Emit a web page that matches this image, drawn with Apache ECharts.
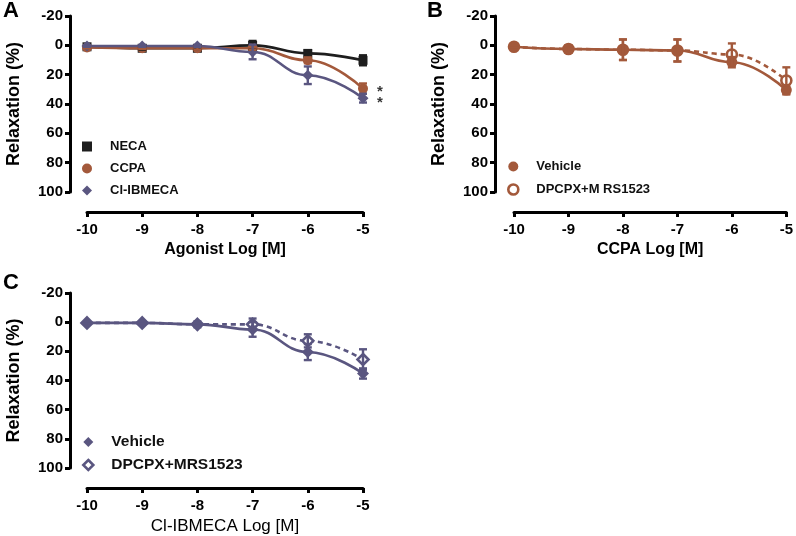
<!DOCTYPE html>
<html><head><meta charset="utf-8">
<script src="https://cdn.jsdelivr.net/npm/echarts@6/dist/echarts.min.js"></script>
<style>html,body{margin:0;padding:0;background:#fff}#c{width:796px;height:536px}</style>
</head><body><div id="c"></div>
<script>
// ---- data ----
const doses = [-10, -9, -8, -7, -6, -5];
const yTicks = [-20, 0, 20, 40, 60, 80, 100];
// Panel A
const necaMean = [1, 2, 2, 0, 5.5, 10.2];
const necaErr  = [0.5, 1, 1, 3, 2, 3.4];
const ccpaMean = [1.5, 2, 2, 2, 10.2, 29.5];
const ccpaErr  = [0.5, 0.5, 1, 1, 2, 3.5];
const clibMean = [0.5, 0.5, 0.5, 4.5, 20.4, 36];
const clibErr  = [0.5, 0.5, 0.5, 5, 6, 3];
const starY = [30, 37.5];
// Panel B
const bVehMean = [1, 2.5, 3, 3.5, 11.5, 30.5];
const bVehErr  = [0.5, 2.5, 7, 7.5, 3.5, 3];
const bDpMean  = [1, 2.5, 3, 3.5, 6.2, 24];
const bDpErr   = [0.5, 2, 7, 7.5, 7.5, 9];
// Panel C
const cVehMean = [0.5, 0.5, 1.5, 5, 20.5, 35.2];
const cVehErr  = [0.5, 0.5, 1, 5, 5.5, 3.5];
const cDpMean  = [0.5, 0.5, 1.5, 1.5, 12.8, 25.6];
const cDpErr   = [0.5, 0.5, 2, 4, 4.5, 7];

const BLACK = '#1e1e1e', BROWN = '#a3593b', PURPLE = '#5a5680';
const FONT = '"Liberation Sans", Arial, sans-serif';

const chart = echarts.init(document.getElementById('c'));

const grids = [
  {left: 87, top: 16, width: 276, height: 176},
  {left: 514, top: 16, width: 274, height: 176},
  {left: 87, top: 293, width: 276, height: 176}
];
const yOffsets = [17, 19, 17];
const xTitles = ['Agonist Log [M]', 'CCPA Log [M]', 'Cl-IBMECA Log [M]'];
const xTitleWeight = ['bold', 'bold', 'normal'];
const xTitleSize = [16, 16, 17];

const xAxes = grids.map((g, i) => ({
  gridIndex: i, type: 'value', min: doses[0], max: doses[doses.length - 1], interval: 1,
  position: 'bottom', offset: 20,
  axisLine: {onZero: false, lineStyle: {color: '#000', width: 3}},
  axisTick: {length: 5, lineStyle: {color: '#000', width: 3}},
  axisLabel: {color: '#000', fontWeight: 'bold', fontSize: 15, fontFamily: FONT, margin: 10},
  splitLine: {show: false},
  name: xTitles[i], nameLocation: 'middle', nameGap: 30,
  nameTextStyle: {color: '#000', fontWeight: xTitleWeight[i], fontSize: xTitleSize[i], fontFamily: FONT}
}));
const yAxes = grids.map((g, i) => ({
  gridIndex: i, type: 'value', inverse: true, min: yTicks[0], max: yTicks[yTicks.length - 1], interval: 20,
  position: 'left', offset: yOffsets[i],
  axisLine: {show: true, onZero: false, lineStyle: {color: '#000', width: 3}},
  axisTick: {show: true, length: 5, lineStyle: {color: '#000', width: 3}},
  axisLabel: {color: '#000', fontWeight: 'bold', fontSize: 15, fontFamily: FONT, margin: 7},
  splitLine: {show: false},
  name: 'Relaxation (%)', nameLocation: 'middle', nameGap: 47, nameRotate: 90,
  nameTextStyle: {color: '#000', fontWeight: 'bold', fontSize: 18, fontFamily: FONT}
}));

function lineSeries(name, gi, mean, color, symbol, size, open, dashed) {
  return {
    name, type: 'line', xAxisIndex: gi, yAxisIndex: gi,
    data: doses.map((d, k) => [d, mean[k]]),
    smooth: 0.45, smoothMonotone: 'x',
    symbol, symbolSize: size, showSymbol: true,
    lineStyle: {color, width: 2.6, type: dashed ? [5, 4] : 'solid'},
    itemStyle: open ? {color: '#fff', borderColor: color, borderWidth: 2.6} : {color, borderWidth: 0},
    z: dashed ? 3 : 4, animation: false
  };
}
function errSeries(gi, mean, err, color) {
  return {
    type: 'custom', xAxisIndex: gi, yAxisIndex: gi, z: 5, silent: true, animation: false,
    data: doses.map((d, k) => [d, mean[k] - err[k], mean[k] + err[k]]),
    encode: {x: 0, y: [1, 2]},
    renderItem(params, api) {
      const top = api.coord([api.value(0), api.value(1)]);
      const bot = api.coord([api.value(0), api.value(2)]);
      const cw = 4;
      const st = {stroke: color, lineWidth: 2.4};
      return {type: 'group', children: [
        {type: 'line', shape: {x1: top[0], y1: top[1], x2: bot[0], y2: bot[1]}, style: st},
        {type: 'line', shape: {x1: top[0] - cw, y1: top[1], x2: top[0] + cw, y2: top[1]}, style: st},
        {type: 'line', shape: {x1: bot[0] - cw, y1: bot[1], x2: bot[0] + cw, y2: bot[1]}, style: st}
      ]};
    }
  };
}

const series = [
  // A
  lineSeries('NECA', 0, necaMean, BLACK, 'rect', 9, false, false),
  errSeries(0, necaMean, necaErr, BLACK),
  lineSeries('CCPA', 0, ccpaMean, BROWN, 'circle', 10, false, false),
  errSeries(0, ccpaMean, ccpaErr, BROWN),
  lineSeries('Cl-IBMECA', 0, clibMean, PURPLE, 'diamond', 11, false, false),
  errSeries(0, clibMean, clibErr, PURPLE),
  {
    type: 'scatter', xAxisIndex: 0, yAxisIndex: 0, symbolSize: 1, silent: true, animation: false,
    itemStyle: {color: 'rgba(0,0,0,0)'},
    data: starY.map(v => [doses[doses.length - 1], v]),
    label: {show: true, formatter: '*', position: 'inside', offset: [17, 3], color: '#000',
      fontSize: 15, fontWeight: 'bold', fontFamily: FONT}
  },
  // B
  lineSeries('DPCPX+M RS1523', 1, bDpMean, BROWN, 'circle', 10, true, true),
  errSeries(1, bDpMean, bDpErr, BROWN),
  lineSeries('Vehicle', 1, bVehMean, BROWN, 'circle', 11, false, false),
  errSeries(1, bVehMean, bVehErr, BROWN),
  // C
  lineSeries('DPCPX+MRS1523 ', 2, cDpMean, PURPLE, 'diamond', 11, true, true),
  errSeries(2, cDpMean, cDpErr, PURPLE),
  lineSeries('Vehicle ', 2, cVehMean, PURPLE, 'diamond', 12, false, false),
  errSeries(2, cVehMean, cVehErr, PURPLE)
];

function legend(left, top, items, fontSize, gap) {
  return {
    left, top, orient: 'vertical', itemGap: gap, itemWidth: 10, itemHeight: 10,
    selectedMode: false, padding: 0,
    textStyle: {color: '#111', fontWeight: 'bold', fontSize, fontFamily: FONT, padding: [0, 0, 0, 13]},
    data: items
  };
}

chart.setOption({
  animation: false,
  grid: grids,
  xAxis: xAxes,
  yAxis: yAxes,
  legend: [
    legend(82, 140, [
      {name: 'NECA', icon: 'rect', itemStyle: {color: BLACK}},
      {name: 'CCPA', icon: 'circle', itemStyle: {color: BROWN}},
      {name: 'Cl-IBMECA', icon: 'diamond', itemStyle: {color: PURPLE}}
    ], 13, 9),
    legend(507, 160, [
      {name: 'Vehicle', icon: 'circle', itemStyle: {color: BROWN}},
      {name: 'DPCPX+M RS1523', icon: 'circle', itemStyle: {color: '#fff', borderColor: BROWN, borderWidth: 2.6}}
    ], 13, 10),
    legend(82, 434, [
      {name: 'Vehicle ', icon: 'diamond', itemStyle: {color: PURPLE}},
      {name: 'DPCPX+MRS1523 ', icon: 'diamond', itemStyle: {color: '#fff', borderColor: PURPLE, borderWidth: 2.6}}
    ], 15.5, 7)
  ],
  graphic: [
    {type: 'text', left: 3, top: 0, style: {text: 'A', font: 'bold 22px ' + FONT, fill: '#000'}},
    {type: 'text', left: 427, top: 0, style: {text: 'B', font: 'bold 22px ' + FONT, fill: '#000'}},
    {type: 'text', left: 3, top: 272, style: {text: 'C', font: 'bold 22px ' + FONT, fill: '#000'}}
  ],
  series
});
</script></body></html>
